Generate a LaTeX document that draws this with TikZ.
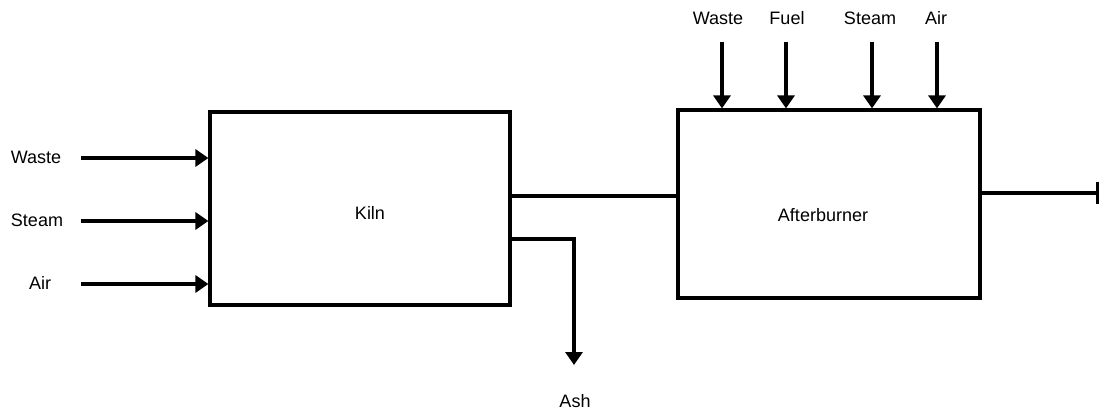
\documentclass[tikz,border=0pt]{standalone}
\usepackage{fontspec}
\setmainfont{Liberation Sans}
\usetikzlibrary{arrows.meta}
\begin{document}
\begin{tikzpicture}[x=1pt,y=-1pt,
  unit/.style={draw,line width=3.2pt,minimum width=#1,inner sep=0pt},
  lbl/.style={font=\fontsize{18}{21}\selectfont,inner sep=0pt},
  flow/.style={line width=3.2pt,-{Triangle[width=17pt,length=13pt]}},
  plain/.style={line width=3.2pt}]
\useasboundingbox (0,0) rectangle (1101,414);
\node[unit=300pt,minimum height=193pt] (kiln) at (360,208.5) {};
\node[unit=302pt,minimum height=188pt] (ab) at (829,204) {};
\node[lbl] (kilnlbl) at (370,213) {Kiln};
\node[lbl] (ablbl) at (823,215) {Afterburner};
% left inputs
\node[lbl] (lw) at (36,157) {Waste};
\node[lbl] (ls) at (37,220) {Steam};
\node[lbl] (la) at (40,283) {Air};
\coordinate (cw) at (81,158);
\coordinate (cs) at (81,221);
\coordinate (ca) at (81,284);
\draw[flow] (cw) -- (cw -| kiln.west);
\draw[flow] (cs) -- (cs -| kiln.west);
\draw[flow] (ca) -- (ca -| kiln.west);
% top inputs
\node[lbl] (tw) at (718,18) {Waste};
\node[lbl] (tf) at (787,18) {Fuel};
\node[lbl] (ts) at (870,18) {Steam};
\node[lbl] (ta) at (936,18) {Air};
\coordinate (dw) at (722,42);
\coordinate (df) at (786,42);
\coordinate (ds) at (872,42);
\coordinate (da) at (937,42);
\draw[flow] (dw) -- (dw |- ab.north);
\draw[flow] (df) -- (df |- ab.north);
\draw[flow] (ds) -- (ds |- ab.north);
\draw[flow] (da) -- (da |- ab.north);
% kiln to afterburner
\coordinate (g) at (510,196);
\draw[plain] (g) -- (g -| ab.west);
% ash
\coordinate (ashs) at (510,239);
\coordinate (ashe) at (574,365);
\node[lbl] (ash) at (575,401) {Ash};
\draw[flow] (ashs) -| (ashe);
% output
\coordinate (out) at (1099,193);
\draw[plain,-{Bar[width=22pt]}] (out -| ab.east) -- (out);
\end{tikzpicture}
\end{document}
